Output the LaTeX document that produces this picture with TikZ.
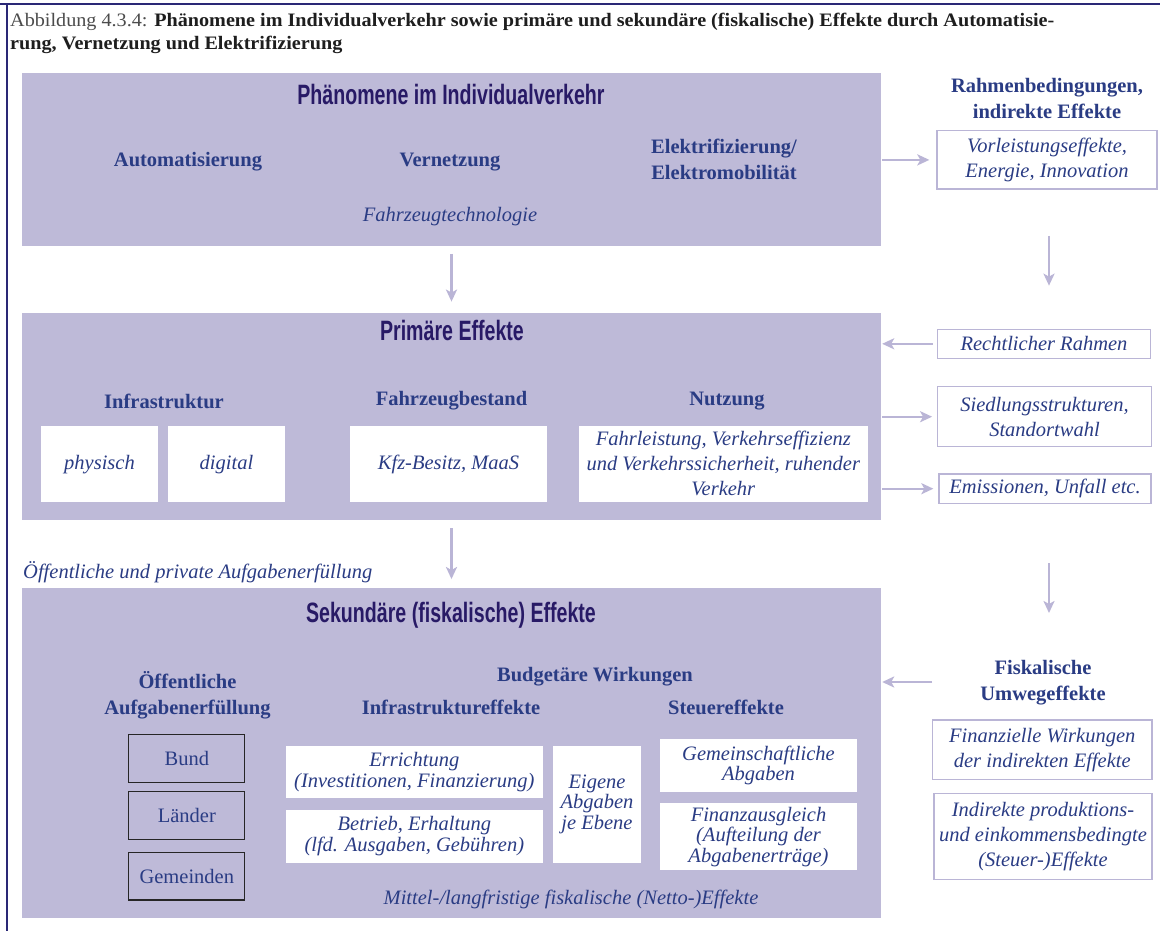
\documentclass[tikz,border=0pt]{standalone}
\usepackage{fontspec}
\setmainfont{Liberation Serif}
\newfontfamily\headfont[FakeStretch=0.7]{Liberation Sans}
\newfontfamily\capfont[FakeStretch=1.062]{Liberation Serif}
\usetikzlibrary{arrows.meta,calc}
\definecolor{boxfill}{RGB}{190,186,216}
\definecolor{txtc}{RGB}{42,60,132}
\definecolor{headc}{RGB}{40,26,102}
\definecolor{arrc}{RGB}{186,181,214}
\definecolor{framec}{RGB}{42,40,118}
\definecolor{capc}{RGB}{30,30,30}
\begin{document}
\begin{tikzpicture}[x=1pt,y=-1pt,
  panel/.style={fill=boxfill,draw=none,inner sep=0pt},
  head/.style={text=headc,font=\headfont\bfseries\fontsize{28}{32}\selectfont,inner sep=0pt,text height=20pt,text depth=6pt},
  lbl/.style={text=txtc,font=\bfseries\fontsize{20.5}{26}\selectfont,inner sep=0pt,align=center},
  itl/.style={text=txtc,font=\itshape\fontsize{20.5}{25}\selectfont,inner sep=0pt,align=center},
  wbox/.style={fill=white,draw=none,inner sep=0pt,text=txtc,font=\itshape\fontsize{20.5}{25}\selectfont,align=center},
  tbox/.style={fill=white,draw=none,inner sep=0pt,text=txtc,font=\itshape\fontsize{20.5}{20.5}\selectfont,align=center},
  obox/.style={fill=white,draw=arrc,line width=1.3pt,inner sep=0pt,text=txtc,font=\itshape\fontsize{20.5}{25}\selectfont,align=center},
  kbox/.style={draw=black!85,line width=1.3pt,inner sep=0pt,text=txtc,font=\fontsize{20.5}{25}\selectfont},
  arr/.style={draw=arrc,line width=2.4pt,-{Stealth[length=12pt,width=11pt,inset=3pt]}}
]
\useasboundingbox (0,0) rectangle (1160,931);
\fill[white] (0,0) rectangle (1160,931);
% frame
\draw[framec,line width=1.5pt] (0,4) -- (1160,4);
\draw[framec,line width=1.5pt] (7,4) -- (7,931);
% caption
\node[anchor=base west,inner sep=0pt,text=capc,font=\capfont\fontsize{19}{23}\selectfont] (cap1) at (10,27)
  {{\color{black!70}Abbildung 4.3.4:} \textbf{Phänomene im Individualverkehr sowie primäre und sekundäre (fiskalische) Effekte durch Automatisie-}};
\node[anchor=base west,inner sep=0pt,text=capc,font=\capfont\fontsize{19}{23}\selectfont] (cap2) at (10,50)
  {\textbf{rung, Vernetzung und Elektrifizierung}};
% panels
\node[panel,minimum width=859pt,minimum height=173pt] (top) at (451.5,159.2) {};
\node[panel,minimum width=859pt,minimum height=207pt] (prim) at (451.5,416.3) {};
\node[panel,minimum width=859pt,minimum height=329.5pt] (sek) at (451.5,753) {};
% top panel content
\node[head] (tph) at (451,98) {Phänomene im Individualverkehr};
\node[lbl] (auto) at (188,162) {Automatisierung};
\node[lbl] (vern) at (450,162) {Vernetzung};
\node[lbl] (elek) at (724,159) {Elektrifizierung/\\Elektromobilität};
\node[itl] (fzt) at (450,217) {Fahrzeugtechnologie};
% middle panel
\node[head] (tpr) at (452,333) {Primäre Effekte};
\node[lbl] (infra) at (164,401) {Infrastruktur};
\node[lbl] (fzb) at (451.5,401) {Fahrzeugbestand};
\node[lbl] (nutzl) at (727,401) {Nutzung};
\node[wbox,minimum width=117pt,minimum height=76pt] (phys) at (99.5,464.3) {physisch};
\node[wbox,minimum width=117pt,minimum height=76pt] (dig) at (226.5,464.3) {digital};
\node[wbox,minimum width=197pt,minimum height=76pt] (kfz) at (448.5,464.3) {Kfz-Besitz, MaaS};
\node[wbox,minimum width=289pt,minimum height=75.5pt] (nutz) at (723.3,463.8) {Fahrleistung, Verkehrseffizienz\\und Verkehrssicherheit, ruhender\\Verkehr};
% between
\node[itl,anchor=west] (oepa) at (23,572) {Öffentliche und private Aufgabenerfüllung};
% bottom panel
\node[head] (tsk) at (451,615) {Sekundäre (fiskalische) Effekte};
\node[lbl] (oeff) at (187.5,695) {Öffentliche\\Aufgabenerfüllung};
\node[lbl] (budg) at (595,677) {Budgetäre Wirkungen};
\node[lbl] (infe) at (451,707.5) {Infrastruktureffekte};
\node[lbl] (steu) at (726,707.5) {Steuereffekte};
\node[kbox,minimum width=116pt,minimum height=47.5pt] (bund) at (186.8,758.5) {Bund};
\node[kbox,minimum width=116pt,minimum height=47.5pt] (laen) at (186.8,815.5) {Länder};
\node[kbox,minimum width=116pt,minimum height=47.5pt] (gem) at (186.8,876.2) {Gemeinden};
\node[tbox,minimum width=256.5pt,minimum height=52.3pt] (err) at (414.3,772.2) {Errichtung\\(Investitionen, Finanzierung)};
\node[tbox,minimum width=256.5pt,minimum height=52.5pt] (betr) at (414.3,836.3) {Betrieb, Erhaltung\\(lfd. Ausgaben, Gebühren)};
\node[tbox,minimum width=87.5pt,minimum height=116.7pt] (eig) at (597,804.3) {Eigene\\Abgaben\\je Ebene};
\node[tbox,minimum width=197.3pt,minimum height=52.4pt] (gms) at (758.5,765.5) {Gemeinschaftliche\\Abgaben};
\node[tbox,minimum width=197.3pt,minimum height=66.7pt] (fina) at (758.5,836.6) {Finanzausgleich\\(Aufteilung der\\Abgabenerträge)};
\node[itl] (mitt) at (571,899) {Mittel-/langfristige fiskalische (Netto-)Effekte};
% right column
\node[lbl] (rahm) at (1047,98) {Rahmenbedingungen,\\indirekte Effekte};
\node[obox,minimum width=220pt,minimum height=58.5pt] (vor) at (1047,159.9) {Vorleistungseffekte,\\Energie, Innovation};
\node[obox,minimum width=213pt,minimum height=29pt] (recht) at (1044,343.8) {Rechtlicher Rahmen};
\node[obox,minimum width=213.5pt,minimum height=60pt] (sied) at (1044.5,416.7) {Siedlungsstrukturen,\\Standortwahl};
\node[obox,minimum width=212pt,minimum height=29.3pt] (emis) at (1045,488.7) {Emissionen, Unfall etc.};
\node[lbl] (fisk) at (1043,683) {Fiskalische\\Umwegeffekte};
\node[obox,minimum width=219.5pt,minimum height=59.3pt] (fin) at (1042.3,749.7) {Finanzielle Wirkungen\\der indirekten Effekte};
\node[obox,minimum width=218pt,minimum height=86pt] (ind) at (1043,836.3) {Indirekte produktions-\\und einkommensbedingte\\(Steuer-)Effekte};
% connectors
\coordinate (fdown) at (1049,613);
\coordinate (fleft) at (932,682);
\draw[arr,shorten <=8pt,shorten >=11pt] (top.south) -- (prim.north);
\draw[arr,shorten <=8pt,shorten >=9pt] (prim.south) -- (sek.north);
\draw[arr,shorten <=1pt,shorten >=7pt] (top.east |- vor.west) -- (vor.west);
\draw[arr,shorten <=46pt,shorten >=43pt] ($(vor.south)+(2,0)$) -- ($(vor.south |- recht.north)+(2,0)$);
\draw[arr,shorten <=4pt,shorten >=1pt] (recht.west) -- (prim.east |- recht.west);
\draw[arr,shorten <=1pt,shorten >=5pt] (prim.east |- sied.west) -- (sied.west);
\draw[arr,shorten <=1pt,shorten >=5pt] (prim.east |- emis.west) -- (emis.west);
\draw[arr,shorten <=59pt] (emis.south -| fdown) -- (fdown);
\draw[arr,shorten >=1pt] (fleft) -- (sek.east |- fleft);
\end{tikzpicture}
\end{document}
